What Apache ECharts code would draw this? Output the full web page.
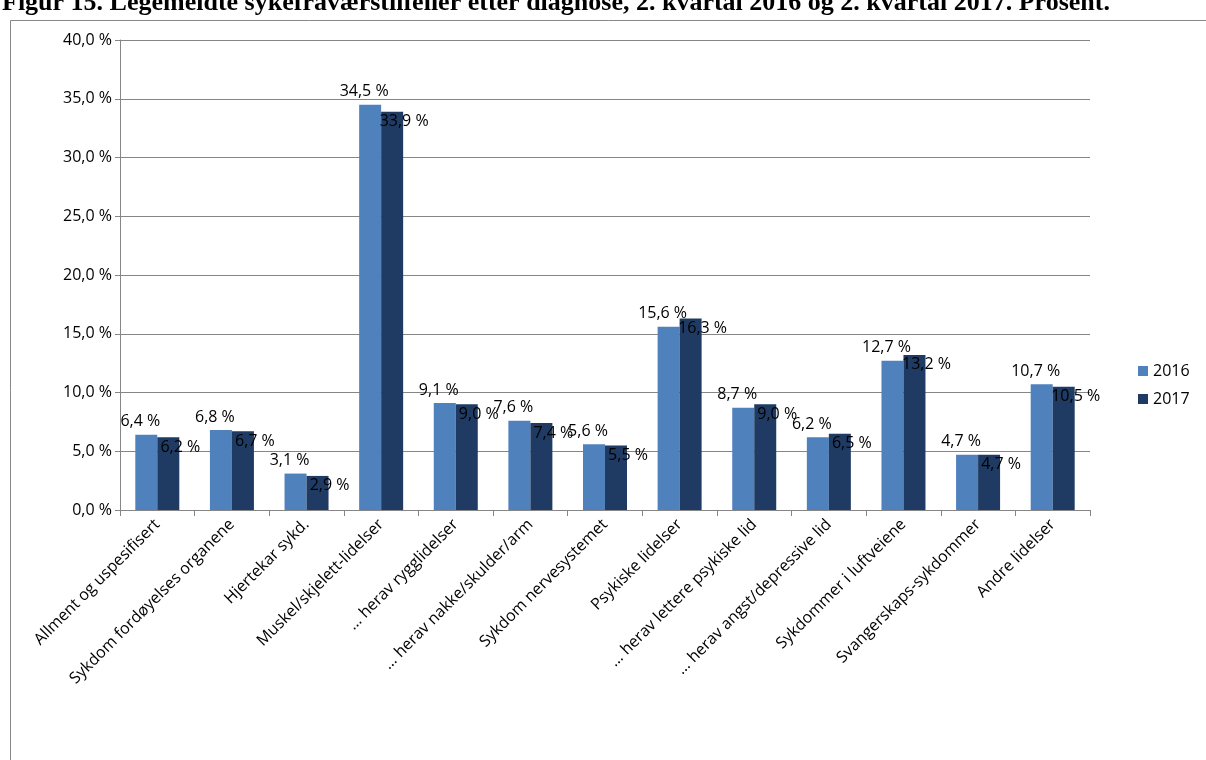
<!DOCTYPE html>
<html><head><meta charset="utf-8">
<script src="https://cdn.jsdelivr.net/npm/echarts@6/dist/echarts.min.js"></script>
<style>body{margin:0;background:#fff}#c{width:1206px;height:760px}</style>
</head><body><div id="c"></div>
<script>
var categories = ['Allment og uspesifisert', 'Sykdom fordøyelses organene', 'Hjertekar sykd.', 'Muskel/skjelett-lidelser', '… herav rygglidelser', '… herav nakke/skulder/arm', 'Sykdom nervesystemet', 'Psykiske lidelser', '… herav lettere psykiske lid', '… herav angst/depressive lid', 'Sykdommer i luftveiene', 'Svangerskaps-sykdommer', 'Andre lidelser'];
var values2016 = [6.4, 6.8, 3.1, 34.5, 9.1, 7.6, 5.6, 15.6, 8.7, 6.2, 12.7, 4.7, 10.7];
var values2017 = [6.2, 6.7, 2.9, 33.9, 9.0, 7.4, 5.5, 16.3, 9.0, 6.5, 13.2, 4.7, 10.5];

function pct(v) { return v.toFixed(1).replace('.', ',') + ' %'; }

var chart = echarts.init(document.getElementById('c'));
chart.setOption({
	animation: false,
	textStyle: { fontFamily: 'Open Sans, sans-serif' },
	graphic: [
		{ type: 'rect', shape: { x: 10.5, y: 20.5, width: 1200, height: 745 }, style: { fill: 'none', stroke: '#888', lineWidth: 1 } },
		{ type: 'text', left: 2, top: -10, style: { text: 'Figur 15. Legemeldte sykefraværstilfeller etter diagnose, 2. kvartal 2016 og 2. kvartal 2017. Prosent.', font: 'bold 26px "Liberation Serif", serif', fill: '#000' } }
	],
	legend: {
		orient: 'vertical', left: 1133, top: 358, itemWidth: 10, itemHeight: 10, itemGap: 12,
		icon: 'rect', textStyle: { fontSize: 16, color: '#000' },
		data: ['2016', '2017']
	},
	grid: { left: 120, right: 116, top: 40, bottom: 250 },
	xAxis: {
		type: 'category', data: categories,
		axisLine: { lineStyle: { color: '#868686' } },
		axisTick: { show: true, length: 6, lineStyle: { color: '#868686' } },
		axisLabel: { rotate: 45, interval: 0, fontSize: 16, color: '#000', margin: 12 }
	},
	yAxis: {
		type: 'value', min: 0, max: 40, interval: 5,
		axisLine: { show: true, lineStyle: { color: '#868686' } },
		axisTick: { show: true, length: 5, lineStyle: { color: '#868686' } },
		splitLine: { lineStyle: { color: '#868686' } },
		axisLabel: { fontSize: 16, color: '#000', margin: 8, formatter: function (v) { return pct(v); } }
	},
	series: [
		{ name: '2016', type: 'bar', data: values2016, barWidth: 22, barGap: '0%', itemStyle: { color: '#4F81BD' },
			label: { show: true, position: 'top', fontSize: 16, color: '#000', offset: [-6, 0], formatter: function (p) { return pct(p.value); } } },
		{ name: '2017', type: 'bar', data: values2017, barWidth: 22, itemStyle: { color: '#1F3B63' },
			label: { show: true, position: 'insideTop', fontSize: 16, color: '#000', offset: [12, -3], formatter: function (p) { return pct(p.value); } } }
	]
});
</script></body></html>
